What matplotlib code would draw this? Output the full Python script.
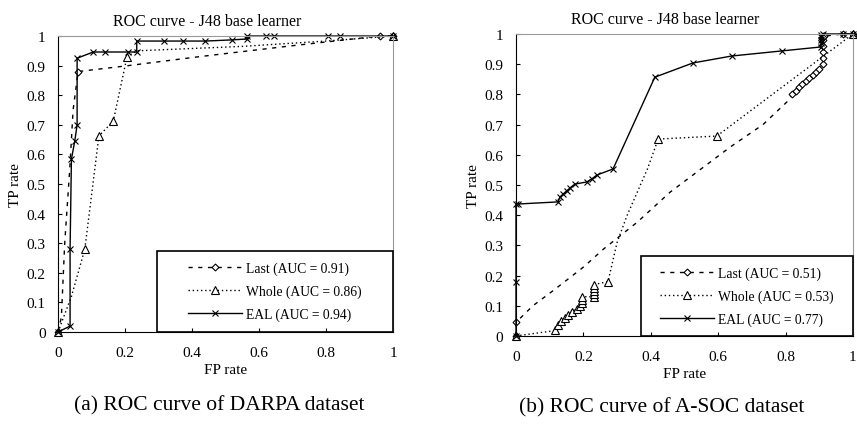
import matplotlib
matplotlib.use('Agg')
import matplotlib.pyplot as plt
import matplotlib.patches as mpatches

plt.rcParams['font.family'] = ['Liberation Serif', 'DejaVu Serif']

# (a) DARPA dataset
last_a_fp = [0, 0.01, 0.02, 0.035, 0.045, 0.06, 0.21, 0.42, 0.69, 0.96, 1.0]
last_a_tp = [0, 0.05, 0.30, 0.55, 0.75, 0.88, 0.90, 0.93, 0.966, 1.0, 1.0]
last_a_mk = [0, 5, 9, 10]

whole_a_fp = [0, 0.04, 0.08, 0.122, 0.165, 0.206, 0.235, 0.55, 0.80, 1.0]
whole_a_tp = [0, 0.12, 0.28, 0.662, 0.713, 0.93, 0.95, 0.965, 0.983, 1.0]
whole_a_mk = [0, 2, 3, 4, 5, 9]

eal_a_fp = [0, 0.036, 0.036, 0.04, 0.05, 0.057, 0.057, 0.105, 0.14, 0.21, 0.235,
            0.235, 0.317, 0.374, 0.44, 0.52, 0.565, 0.565, 0.62, 0.645, 0.806, 0.842, 1.0]
eal_a_tp = [0, 0.02, 0.28, 0.584, 0.645, 0.70, 0.925, 0.946, 0.946, 0.946, 0.946,
            0.983, 0.983, 0.983, 0.983, 0.987, 0.99, 1.0, 1.0, 1.0, 1.0, 1.0, 1.0]

# (b) A-SOC dataset
last_b_fp = [0, 0, 0.05, 0.11, 0.2, 0.26, 0.36, 0.457, 0.537, 0.635, 0.733, 0.804,
             0.82, 0.83, 0.84, 0.85, 0.86, 0.87, 0.88, 0.89, 0.90, 0.91,
             0.91, 0.91, 0.91, 0.91, 0.91, 0.915, 0.97, 1.0]
last_b_tp = [0, 0.045, 0.10, 0.15, 0.228, 0.288, 0.377, 0.476, 0.543, 0.625, 0.70, 0.775,
             0.80, 0.81, 0.825, 0.835, 0.845, 0.855, 0.865, 0.875, 0.885, 0.90,
             0.92, 0.94, 0.96, 0.98, 0.99, 0.993, 1.0, 1.0]
last_b_mk = [0, 1] + list(range(12, 30))

whole_b_fp = [0, 0.11, 0.115, 0.125, 0.135, 0.145, 0.155, 0.165, 0.18, 0.19, 0.195, 0.195,
              0.195, 0.23, 0.23, 0.23, 0.23, 0.23, 0.273, 0.30, 0.33, 0.39, 0.422, 0.596, 1.0]
whole_b_tp = [0, 0.017, 0.02, 0.035, 0.05, 0.06, 0.07, 0.08, 0.09, 0.10, 0.11, 0.12,
              0.13, 0.13, 0.14, 0.15, 0.16, 0.17, 0.18, 0.31, 0.40, 0.553, 0.652, 0.662, 1.0]
whole_b_mk = [0] + list(range(2, 19)) + [22, 23, 24]

eal_b_fp = [0, 0, 0, 0.006, 0.125, 0.13, 0.14, 0.15, 0.16, 0.175, 0.21, 0.225, 0.24, 0.288,
            0.412, 0.525, 0.64, 0.79, 0.905, 0.905, 0.905, 0.905, 0.905, 0.91, 0.97, 1.0]
eal_b_tp = [0, 0.18, 0.437, 0.437, 0.444, 0.46, 0.47, 0.48, 0.49, 0.503, 0.51, 0.52, 0.533, 0.553,
            0.857, 0.904, 0.927, 0.944, 0.957, 0.97, 0.98, 0.99, 0.995, 1.0, 1.0, 1.0]

auc_a = [0.91, 0.86, 0.94]
auc_b = [0.51, 0.53, 0.77]
x_ticks = [0, 0.2, 0.4, 0.6, 0.8, 1]
y_ticks = [0, 0.1, 0.2, 0.3, 0.4, 0.5, 0.6, 0.7, 0.8, 0.9, 1]
captions = ['(a) ROC curve of DARPA dataset', '(b) ROC curve of A-SOC dataset']


def fmt(v):
    return '0' if v == 0 else ('1' if v == 1 else f'{v:g}')


def draw_panel(ax, last, whole, eal, aucs, legend_x0, legend_h, title_x):
    ax.plot(last[0], last[1], color='black', lw=1, dashes=(3, 4),
            marker='D', ms=3.5, mfc='white', mec='black', mew=0.8, markevery=last[2],
            label=f'Last (AUC = {aucs[0]:.2f})', clip_on=False)
    ax.plot(whole[0], whole[1], color='black', lw=1, dashes=(1, 2),
            marker='^', ms=5.5, mfc='white', mec='black', mew=0.8, markevery=whole[2],
            label=f'Whole (AUC = {aucs[1]:.2f})', clip_on=False)
    ax.plot(eal[0], eal[1], color='black', lw=1, marker='x', ms=5, mew=0.8,
            label=f'EAL (AUC = {aucs[2]:.2f})', clip_on=False)

    ax.set_xlim(0, 1)
    ax.set_ylim(0, 1)
    ax.set_xticks(x_ticks)
    ax.set_xticklabels([fmt(v) for v in x_ticks])
    ax.set_yticks(y_ticks)
    ax.set_yticklabels([fmt(v) for v in y_ticks])
    ax.tick_params(direction='in', length=3, width=0.8, labelsize=11)
    ax.tick_params(axis='x', pad=10)
    ax.tick_params(axis='y', pad=9)
    for s in ['top', 'right']:
        ax.spines[s].set_color('#9a9a9a')
    for s in ['left', 'bottom']:
        ax.spines[s].set_color('black')
    ax.set_xlabel('FP rate', fontsize=11, labelpad=3)
    ax.set_ylabel('TP rate', fontsize=11, labelpad=3)
    ax.set_title('ROC curve - J48 base learner', fontsize=11.5, x=title_x, pad=8)

    # Legend-Rahmen separat zeichnen
    ax.add_patch(mpatches.Rectangle((legend_x0, 0), 1 - legend_x0, legend_h,
                                    transform=ax.transAxes, fill=False,
                                    edgecolor='black', lw=1.2, zorder=5, clip_on=False))
    ax.legend(loc='center', bbox_to_anchor=((legend_x0 + 1) / 2, legend_h / 2),
              frameon=False, fontsize=9.8, handlelength=4.0, handletextpad=0.3,
              labelspacing=0.7)


fig = plt.figure(figsize=(8.57, 4.27), dpi=100)
ax1 = fig.add_axes([0.0677, 0.2201, 0.3909, 0.6932])
ax2 = fig.add_axes([0.6021, 0.2108, 0.3932, 0.7073])

draw_panel(ax1, (last_a_fp, last_a_tp, last_a_mk), (whole_a_fp, whole_a_tp, whole_a_mk),
           (eal_a_fp, eal_a_tp), auc_a, 0.2955, 0.274, 0.445)
draw_panel(ax2, (last_b_fp, last_b_tp, last_b_mk), (whole_b_fp, whole_b_tp, whole_b_mk),
           (eal_b_fp, eal_b_tp), auc_b, 0.371, 0.265, 0.442)

fig.text(219 / 857, 1 - 406 / 427, captions[0], fontsize=15.5, ha='center', va='center')
fig.text(662 / 857, 1 - 408 / 427, captions[1], fontsize=15.5, ha='center', va='center')

plt.savefig('out.png', dpi=100)
plt.close(fig)
